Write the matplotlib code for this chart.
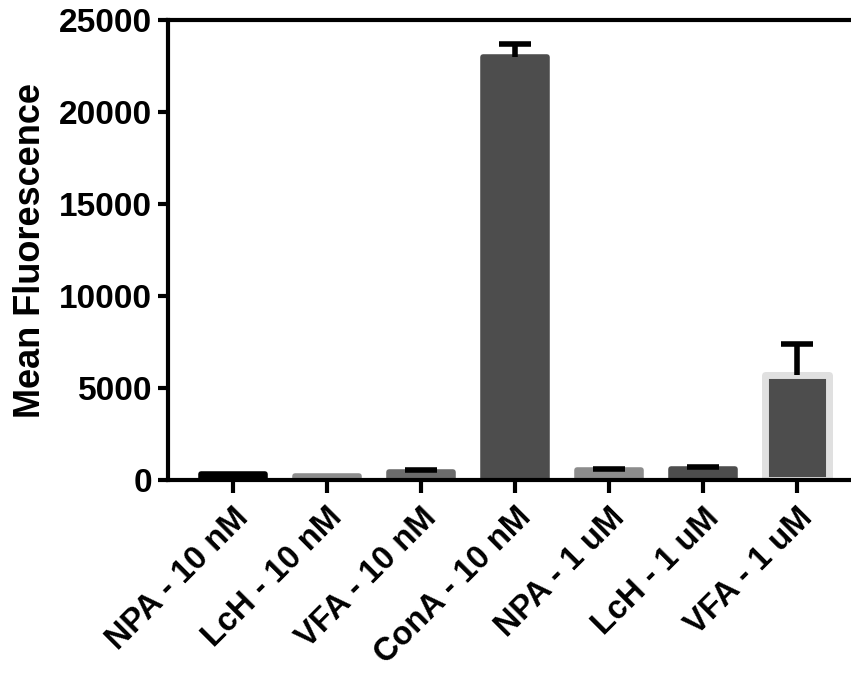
import matplotlib
matplotlib.use("Agg")
import matplotlib.pyplot as plt

labels = ["NPA - 10 nM", "LcH - 10 nM", "VFA - 10 nM", "ConA - 10 nM",
          "NPA - 1 uM", "LcH - 1 uM", "VFA - 1 uM"]
means = [300, 230, 420, 23000, 540, 600, 5700]
errs = [0, 0, 120, 700, 60, 100, 1700]
colors = ["#000000", "#8c8c8c", "#6b6b6b", "#4d4d4d", "#8c8c8c", "#4d4d4d", "#4d4d4d"]
edges = ["#000000", "#8c8c8c", "#6b6b6b", "#4d4d4d", "#8c8c8c", "#4d4d4d", "#e0e0e0"]
edge_w = [4, 4, 4, 4, 4, 4, 5]

plt.rcParams['font.family'] = ['Liberation Sans', 'DejaVu Sans']
plt.rcParams['font.weight'] = 'bold'

fig = plt.figure(figsize=(8.51, 6.75), dpi=100)
ax = fig.add_axes([0.197, 0.289, 0.803, 0.681])

x = list(range(len(labels)))
for i in x:
    ax.bar(i, means[i], width=0.68, color=colors[i], edgecolor=edges[i],
           linewidth=edge_w[i], joinstyle='round', zorder=2)
    if errs[i] > 0:
        # upper error only, no cap at the bar top
        ax.errorbar(i, means[i], yerr=[[0], [errs[i]]], fmt='none', ecolor='black',
                    elinewidth=4, capsize=0, zorder=3)
        ax.plot(i, means[i] + errs[i], marker='_', markersize=23, mew=4,
                color='black', zorder=3)

ax.set_xlim(-0.69, 6.57)
ax.set_ylim(0, 25000)
ax.set_yticks([0, 5000, 10000, 15000, 20000, 25000])
ax.set_xticks(x)
ax.set_xticklabels(labels, rotation=45, ha='right', rotation_mode='anchor', fontsize=23.5, fontweight='bold')
ax.tick_params(axis='y', labelsize=24, width=3, length=7, direction='out', pad=4)
ax.tick_params(axis='x', width=3, length=9, direction='out', pad=7)
ax.set_ylabel("Mean Fluorescence", fontsize=26, fontweight='bold', labelpad=8)

for s in ['left', 'bottom', 'top']:
    ax.spines[s].set_linewidth(3)
ax.spines['right'].set_visible(False)

fig.savefig("out.png", dpi=100)
